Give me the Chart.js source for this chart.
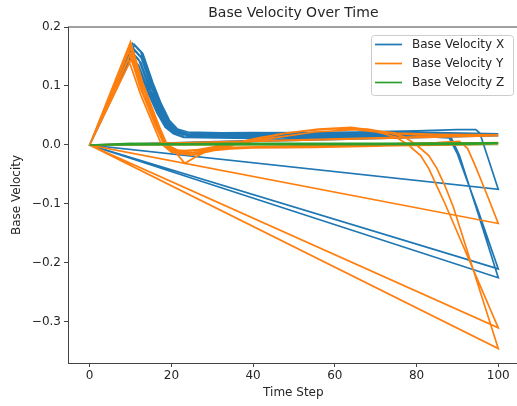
<!DOCTYPE html>
<html>
<head>
<meta charset="utf-8">
<title>Base Velocity Over Time</title>
<script src="https://cdn.jsdelivr.net/npm/chart.js@4.4.0/dist/chart.umd.min.js"></script>
<style>
  html, body { margin: 0; padding: 0; background: #fff; overflow: hidden; }
  #wrap { width: 520px; height: 406px; }
</style>
</head>
<body>
<div id="wrap"><canvas id="velChart" width="520" height="406"></canvas></div>
<script>
'use strict';

// series names
var seriesNames = ["Base Velocity X", "Base Velocity Y", "Base Velocity Z"];
var seriesColors = ["#1f77b4", "#ff7f0e", "#2ca02c"];

// tick labels
var xTicks = [0, 20, 40, 60, 80, 100];
var yTicks = [-0.3, -0.2, -0.1, 0.0, 0.1, 0.2];

// each episode = list of [time step, velocity], episodes are logged one after another
var velocityX = [
  [[0,0],[10.5,0.165],[12.5,0.15],[15,0.1],[17,0.066],[19,0.038],[21,0.025],[24,0.018],[35,0.016],[50,0.017],[65,0.016],[80,0.015],[88,0.012],[90,-0.015],[95,-0.11],[100,-0.21]],
  [[0,0],[11,0.16],[13,0.145],[15.5,0.095],[17.5,0.062],[19.5,0.036],[21.5,0.024],[25,0.017],[40,0.015],[55,0.016],[70,0.017],[85,0.014],[88.5,0.012],[90.5,-0.018],[95,-0.115],[100,-0.225]],
  [[0,0],[10.5,0.172],[12.5,0.158],[15,0.108],[17,0.072],[19,0.042],[21,0.028],[24,0.022],[35,0.02],[50,0.021],[65,0.022],[80,0.024],[90,0.026],[94.5,0.026],[95.5,0.02],[100,-0.075]],
  [[0,0],[10,0.15],[12,0.135],[14.5,0.09],[16.5,0.058],[18.5,0.032],[20.5,0.02],[23,0.014],[35,0.012],[50,0.014],[65,0.015],[80,0.016],[100,0.016]],
  [[0,0],[10,0.145],[12,0.128],[14.5,0.085],[16.5,0.054],[18.5,0.03],[20.5,0.019],[23,0.013],[40,0.011],[55,0.013],[70,0.015],[85,0.018],[100,0.017]],
  [[0,0],[11,0.17],[13,0.155],[15.5,0.105],[17.5,0.07],[19.5,0.042],[21.5,0.027],[25,0.02],[40,0.021],[55,0.02],[70,0.022],[85,0.021],[100,0.019]],
  [[0,0],[10.5,0.155],[12.5,0.14],[15,0.092],[17,0.06],[19,0.034],[21,0.022],[24,0.016],[40,0.015],[60,0.017],[80,0.018],[100,0.017]],
  [[0,0],[10,0.16],[12,0.145],[14.5,0.098],[16.5,0.064],[18.5,0.036],[20.5,0.023],[23,0.017],[40,0.018],[60,0.019],[80,0.02],[100,0.018]]
];

var velocityY = [
  [[0,0],[10,0.175],[13,0.105],[16.3,0.045],[18.5,0.005],[20.5,-0.008],[23,-0.012],[28,-0.006],[35,0.003],[42,0.013],[50,0.022],[58,0.027],[65,0.028],[70,0.024],[75,0.02],[85,0.018],[100,0.017]],
  [[0,0],[10,0.17],[13,0.1],[16,0.045],[18,0.004],[20.8,-0.011],[23.3,-0.031],[26,-0.02],[28.6,-0.011],[33,-0.004],[40,0.008],[48,0.02],[56,0.027],[64,0.03],[68,0.026],[72,0.019],[75,0.013],[78,0.0],[81,-0.018],[83,-0.04],[85,-0.07],[87,-0.1],[100,-0.31]],
  [[0,0],[10,0.165],[13,0.098],[16.5,0.04],[19,0.0],[21,-0.014],[25,-0.017],[30,-0.01],[38,0.005],[46,0.018],[55,0.026],[63,0.029],[68,0.027],[73,0.021],[77,0.014],[80,0.0],[83,-0.018],[85,-0.04],[87,-0.07],[89,-0.105],[100,-0.345]],
  [[0,0],[9.5,0.16],[12.5,0.095],[16,0.035],[18,0.004],[20,-0.01],[25,-0.013],[35,-0.006],[50,-0.002],[70,0.001],[85,0.004],[90.5,0.006],[92.5,-0.006],[94.3,-0.034],[97,-0.08],[100,-0.133]],
  [[0,0],[10,0.155],[13,0.09],[16,0.038],[18,0.003],[20,-0.008],[24,-0.01],[30,-0.006],[45,-0.004],[60,-0.003],[75,-0.001],[90,0.0],[100,0.002]],
  [[0,0],[10.5,0.15],[13.5,0.092],[16.5,0.04],[19,0.0],[22,-0.01],[27,-0.008],[35,0.0],[45,0.012],[55,0.022],[65,0.026],[72,0.021],[80,0.017],[100,0.016]],
  [[0,0],[9.5,0.145],[12.5,0.085],[15.5,0.035],[17.5,0.002],[20,-0.012],[24,-0.015],[30,-0.008],[40,-0.005],[55,-0.004],[70,-0.002],[85,0.001],[100,0.003]],
  [[0,0],[10,0.172],[13,0.1],[16,0.042],[18.5,0.002],[21,-0.01],[26,-0.009],[35,-0.004],[50,-0.002],[65,0.0],[80,0.002],[100,0.004]]
];

var velocityZ = [
  [[0,0],[10,0.002],[20,0.001],[40,0.002],[60,0.002],[80,0.003],[100,0.002]],
  [[0,0],[10,0.003],[20,0.002],[40,0.001],[60,0.002],[80,0.002],[100,0.003]],
  [[0,0],[10,0.001],[20,0.002],[40,0.002],[60,0.003],[80,0.002],[100,0.002]],
  [[0,0],[10,0.002],[20,0.001],[40,0.001],[60,0.002],[80,0.002],[100,0.001]],
  [[0,0],[10,0.003],[20,0.002],[40,0.002],[60,0.001],[80,0.002],[100,0.002]],
  [[0,0],[10,0.002],[20,0.002],[40,0.003],[60,0.002],[80,0.001],[100,0.002]],
  [[0,0],[10,0.001],[20,0.001],[40,0.002],[60,0.002],[80,0.002],[100,0.003]],
  [[0,0],[10,0.002],[20,0.002],[40,0.002],[60,0.002],[80,0.002],[100,0.002]]
];

var fontFamily = "'DejaVu Sans', sans-serif";
var textColor = "#262626";
var axisColor = "#444";

// join all episodes into one line (so the line jumps back to step 0 after each one)
function toPoints(episodes) {
  var pts = [];
  episodes.forEach(function(ep) {
    ep.forEach(function(p) { pts.push({x: p[0], y: p[1]}); });
  });
  return pts;
}

function fmtTick(v) {
  var s = Number(v).toFixed(1);
  if (s === "-0.0") s = "0.0";
  return s.replace("-", "\u2212");
}

// datasets listed Z, Y, X so that X is drawn at the bottom like matplotlib
var allSeries = [velocityX, velocityY, velocityZ];
var datasets = [];
for (var i = allSeries.length - 1; i >= 0; i--) {
  datasets.push({
    label: seriesNames[i],
    data: toPoints(allSeries[i]),
    borderColor: seriesColors[i],
    backgroundColor: seriesColors[i],
    borderWidth: 1.7,
    pointRadius: 0,
    tension: 0,
    fill: false
  });
}

// title, top/right spines and the boxed legend inside the axes
var mplExtras = {
  id: 'mplExtras',
  afterDraw: function(chart) {
    var ctx = chart.ctx;
    var a = chart.chartArea;
    ctx.save();

    // top + right spine
    ctx.fillStyle = axisColor;
    ctx.fillRect(a.left, Math.round(a.top) - 0.5, a.right - a.left, 1);
    ctx.fillRect(Math.round(a.right) - 0.5, a.top, 1, a.bottom - a.top);

    // legend box
    var boxW = 142, boxH = 60;
    var bx = a.right - 5.7 - boxW, by = a.top + 8;
    ctx.fillStyle = "rgba(255,255,255,0.8)";
    ctx.strokeStyle = "#cccccc";
    ctx.lineWidth = 1;
    ctx.beginPath();
    ctx.roundRect(bx + 0.5, by + 0.5, boxW, boxH, 3);
    ctx.fill();
    ctx.stroke();

    ctx.font = "12px " + fontFamily;
    ctx.textBaseline = "middle";
    ctx.textAlign = "left";
    for (var k = 0; k < seriesNames.length; k++) {
      var ry = by + 9.5 + k * 19;
      ctx.strokeStyle = seriesColors[k];
      ctx.lineWidth = 1.7;
      ctx.beginPath();
      ctx.moveTo(bx + 4, ry);
      ctx.lineTo(bx + 31, ry);
      ctx.stroke();
      ctx.fillStyle = textColor;
      ctx.fillText(seriesNames[k], bx + 41, ry);
    }

    // title
    ctx.font = "14px " + fontFamily;
    ctx.textAlign = "center";
    ctx.fillStyle = textColor;
    ctx.fillText("Base Velocity Over Time", (a.left + a.right) / 2, 13.5);
    ctx.restore();
  }
};

var canvas = document.getElementById("velChart").getContext('2d');
var velChart = new Chart(canvas, {
  type: 'line',
  data: { datasets: datasets },
  options: {
    responsive: false,
    animation: false,
    layout: { padding: { top: 27, right: 1.3, left: 0, bottom: 0 } },
    plugins: {
      legend: { display: false },
      title: { display: false },
      tooltip: { enabled: false }
    },
    scales: {
      x: {
        type: 'linear',
        min: -5.3,
        max: 105,
        afterBuildTicks: function(scale) {
          scale.ticks = xTicks.map(function(v) { return {value: v}; });
        },
        afterFit: function(scale) { scale.height = 43; },
        ticks: {
          color: textColor,
          font: { family: fontFamily, size: 12 },
          padding: 2,
          maxRotation: 0,
          callback: function(v) { return String(v); }
        },
        grid: { display: true, drawOnChartArea: false, drawTicks: true, tickLength: 4, tickColor: axisColor },
        border: { display: true, color: axisColor, width: 1 },
        title: {
          display: true,
          text: "Time Step",
          color: textColor,
          font: { family: fontFamily, size: 12 },
          padding: { top: 0, bottom: 6 }
        }
      },
      y: {
        type: 'linear',
        min: -0.3695,
        max: 0.2,
        afterBuildTicks: function(scale) {
          scale.ticks = yTicks.map(function(v) { return {value: v}; });
        },
        afterFit: function(scale) { scale.width = 68; },
        ticks: {
          color: textColor,
          font: { family: fontFamily, size: 12 },
          padding: 3,
          callback: function(v) { return fmtTick(v); }
        },
        grid: { display: true, drawOnChartArea: false, drawTicks: true, tickLength: 4, tickColor: axisColor },
        border: { display: true, color: axisColor, width: 1 },
        title: {
          display: true,
          text: "Base Velocity",
          color: textColor,
          font: { family: fontFamily, size: 12 },
          padding: { top: 10, bottom: 0 }
        }
      }
    }
  },
  plugins: [mplExtras]
});
</script>
</body>
</html>
